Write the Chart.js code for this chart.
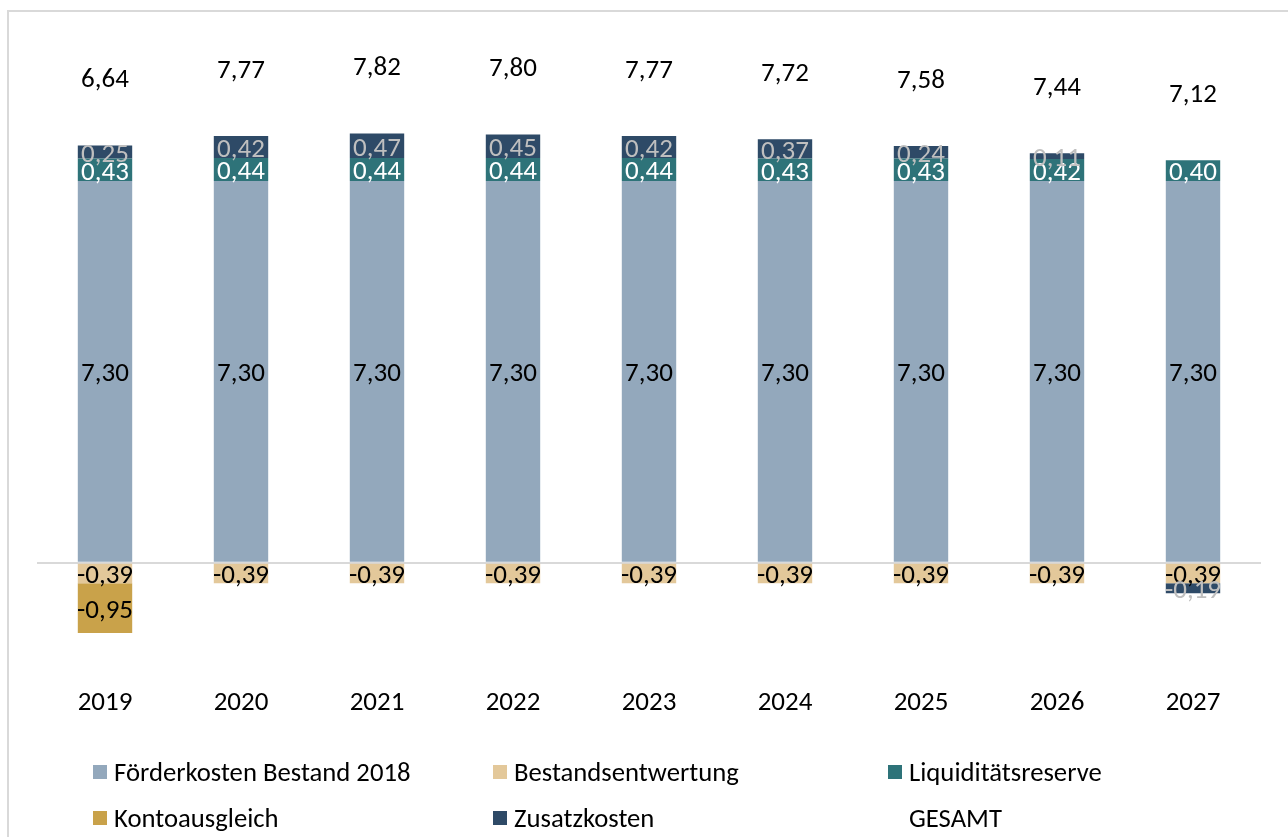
<!DOCTYPE html>
<html>
<head>
<meta charset="utf-8">
<script src="https://cdn.jsdelivr.net/npm/chart.js@4.4.1/dist/chart.umd.min.js"></script>
<style>
  html, body { margin: 0; padding: 0; background: #fff; }
  body { width: 1288px; height: 837px; position: relative; overflow: hidden; font-family: Carlito, Lato, "Open Sans", sans-serif; }
  #frame { position: absolute; left: 7px; top: 10px; width: 1300px; height: 900px; border: 2px solid #d9d9d9; box-sizing: border-box; }
  #wrap { position: absolute; left: 0; top: 0; width: 1288px; height: 740px; }
  #legend { position: absolute; left: 0; top: 0; width: 1288px; height: 837px; pointer-events: none; }
  .li { position: absolute; display: flex; align-items: center; font-size: 26.7px; line-height: 32px; height: 32px; color: #000; white-space: nowrap; }
  .box { width: 14px; height: 14px; margin-right: 7px; }
</style>
</head>
<body>
<div id="frame"></div>
<div id="wrap"><canvas id="c" width="1288" height="740"></canvas></div>
<div id="legend"></div>
<script>
const categories = ['2019','2020','2021','2022','2023','2024','2025','2026','2027'];
const foerderkosten = [7.30,7.30,7.30,7.30,7.30,7.30,7.30,7.30,7.30];
const bestandsentwertung = [-0.39,-0.39,-0.39,-0.39,-0.39,-0.39,-0.39,-0.39,-0.39];
const liquiditaetsreserve = [0.43,0.44,0.44,0.44,0.44,0.43,0.43,0.42,0.40];
const kontoausgleich = [-0.95,0,0,0,0,0,0,0,0];
const zusatzkosten = [0.25,0.42,0.47,0.45,0.42,0.37,0.24,0.11,-0.19];
const gesamt = [6.64,7.77,7.82,7.80,7.77,7.72,7.58,7.44,7.12];

const seriesNames = ['Förderkosten Bestand 2018','Bestandsentwertung','Liquiditätsreserve','Kontoausgleich','Zusatzkosten','GESAMT'];
const colors = ['#93A8BC','#E3C89A','#2E7379','#C9A24A','#2E4A67','transparent'];
const labelColors = ['#000000','#000000','#FFFFFF','#000000','#BFBFBF','#000000'];

const FONT = 'Carlito, Lato, "Open Sans", sans-serif';
const fmt = v => v.toFixed(2).replace('.', ',');

const barSets = [foerderkosten, bestandsentwertung, liquiditaetsreserve, kontoausgleich, zusatzkosten];

const datasets = barSets.map((d, i) => ({
  type: 'bar',
  label: seriesNames[i],
  data: d,
  backgroundColor: colors[i],
  borderWidth: 0,
  stack: 'main',
  barPercentage: 0.4,
  categoryPercentage: 1.0,
  labelColor: labelColors[i]
}));
datasets.push({
  type: 'line',
  label: seriesNames[5],
  data: gesamt,
  stack: 'gesamt',
  showLine: false,
  pointRadius: 0,
  borderColor: 'transparent',
  backgroundColor: 'transparent',
  labelColor: labelColors[5]
});

const labelPlugin = {
  id: 'valueLabels',
  afterDatasetsDraw(chart) {
    const ctx = chart.ctx;
    ctx.save();
    ctx.font = '27px ' + FONT;
    ctx.textAlign = 'center';
    ctx.textBaseline = 'middle';
    const n = categories.length;
    const tops = new Array(n).fill(Infinity);
    chart.data.datasets.forEach((ds, di) => {
      if (ds.type !== 'bar') return;
      const meta = chart.getDatasetMeta(di);
      meta.data.forEach((el, i) => {
        const v = ds.data[i];
        if (!v) return;
        const top = Math.min(el.y, el.base);
        if (v > 0 && top < tops[i]) tops[i] = top;
        ctx.fillStyle = ds.labelColor;
        ctx.fillText(fmt(v), el.x, (el.y + el.base) / 2 + 3);
      });
    });
    chart.data.datasets.forEach((ds, di) => {
      if (ds.type !== 'line') return;
      const meta = chart.getDatasetMeta(di);
      meta.data.forEach((el, i) => {
        ctx.fillStyle = ds.labelColor;
        ctx.fillText(fmt(ds.data[i]), el.x, tops[i] - 65);
      });
    });
    ctx.restore();
  }
};

new Chart(document.getElementById('c'), {
  data: { labels: categories, datasets },
  options: {
    responsive: false,
    animation: false,
    layout: { padding: { left: 37, right: 27, top: 66, bottom: 0 } },
    plugins: { legend: { display: false }, tooltip: { enabled: false } },
    scales: {
      x: {
        stacked: true,
        grid: { display: false, drawTicks: false },
        border: { display: false },
        ticks: { color: '#000', font: { family: FONT, size: 27 }, padding: 30, maxRotation: 0, autoSkip: false },
        afterFit(scale) { scale.height = 83; }
      },
      y: {
        stacked: true,
        min: -1.8, max: 9.5,
        ticks: { display: false, stepSize: 1 },
        border: { display: false },
        grid: {
          drawTicks: false,
          lineWidth: 2,
          color: c => (c.tick && c.tick.value === 0) ? '#d9d9d9' : 'transparent'
        }
      }
    }
  },
  plugins: [labelPlugin]
});

// legend
const legendPos = [[93,772],[493,772],[888,772],[93,818],[493,818],[888,818]];
const legend = document.getElementById('legend');
seriesNames.forEach((name, i) => {
  const d = document.createElement('div');
  d.className = 'li';
  d.style.left = legendPos[i][0] + 'px';
  d.style.top = (legendPos[i][1] - 16) + 'px';
  const b = document.createElement('span');
  b.className = 'box';
  b.style.background = colors[i];
  const t = document.createElement('span');
  t.textContent = name;
  d.appendChild(b); d.appendChild(t);
  legend.appendChild(d);
});
</script>
</body>
</html>
